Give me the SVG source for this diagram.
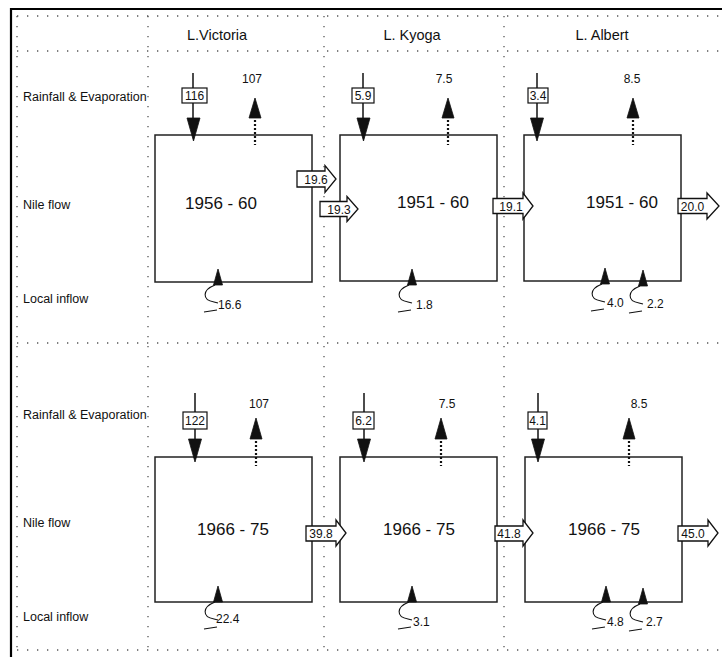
<svg xmlns="http://www.w3.org/2000/svg" width="722" height="657" viewBox="0 0 722 657">
<style>
text{font-family:"Liberation Sans",Arial,sans-serif;fill:#111}
.grid{stroke:#555;stroke-width:1.3;stroke-dasharray:1.3 8.7;fill:none}
.frame{stroke:#000;stroke-width:2.2;fill:none}
.box{fill:none;stroke:#222;stroke-width:1.5}
.hdr{font-size:14.5px;text-anchor:middle}
.row{font-size:12.5px}
.yr{font-size:17px;text-anchor:middle}
.val{font-size:12px;text-anchor:middle}
.lab{font-size:12px}
.lbox{fill:#fff;stroke:#111;stroke-width:1.2}
.shaft{stroke:#111;stroke-width:1.5;fill:none}
.dshaft{stroke:#111;stroke-width:2.2;stroke-dasharray:2 2;fill:none}
.head{fill:#111;stroke:#111;stroke-width:0.8}
.blk{fill:#fff;stroke:#111;stroke-width:1.3;stroke-linejoin:miter}
.sq{fill:none;stroke:#111;stroke-width:1.1}
</style>
<defs>
<g id="inflow">
<polygon class="head" points="0,0 -4.5,16 4.5,16"/>
<path class="sq" d="M-3,16 C-16,21 -16,31 -4,33 L0,34 M-14,43 L-1,41"/>
</g>
</defs>
<rect width="722" height="657" fill="#fff"/>
<g id="grid">
<path class="frame" d="M11,657 V9 H722"/>
<path class="grid" d="M17,16 H722 M17,51 H722 M17,343 H722 M17,650 H722"/>
<path class="grid" d="M17,16 V650 M148,16 V650 M324,16 V650 M504,16 V650"/>
</g>
<g id="headers">
<text class="hdr" x="217" y="40">L.Victoria</text>
<text class="hdr" x="412" y="40">L. Kyoga</text>
<text class="hdr" x="602" y="40">L. Albert</text>
</g>
<g id="row-labels">
<text class="row" x="23" y="101">Rainfall &amp; Evaporation</text>
<text class="row" x="23" y="209">Nile flow</text>
<text class="row" x="23" y="303">Local inflow</text>
<text class="row" x="23" y="419">Rainfall &amp; Evaporation</text>
<text class="row" x="23" y="527">Nile flow</text>
<text class="row" x="23" y="621">Local inflow</text>
</g>
<g id="victoria-1956">
<rect class="box" x="155" y="135" width="157" height="147"/>
<text class="yr" x="221" y="209">1956 - 60</text>
</g>
<g id="kyoga-1951">
<rect class="box" x="340" y="135" width="157" height="146"/>
<text class="yr" x="433" y="208">1951 - 60</text>
</g>
<g id="albert-1951">
<rect class="box" x="524" y="135" width="157" height="146"/>
<text class="yr" x="622" y="208">1951 - 60</text>
</g>
<g id="victoria-1966">
<rect class="box" x="155" y="457" width="157" height="145"/>
<text class="yr" x="233" y="535">1966 - 75</text>
</g>
<g id="kyoga-1966">
<rect class="box" x="340" y="457" width="157" height="145"/>
<text class="yr" x="419" y="535">1966 - 75</text>
</g>
<g id="albert-1966">
<rect class="box" x="525" y="457" width="157" height="145"/>
<text class="yr" x="604" y="535">1966 - 75</text>
</g>
<g id="connectors">
<!-- rainfall top -->
<line class="shaft" x1="193" y1="73" x2="193" y2="120"/>
<polygon class="head" points="187,118 200,118 193.5,141"/>
<rect class="lbox" x="182" y="88" width="25" height="15"/>
<text class="val" x="194.5" y="100">116</text>
<line class="shaft" x1="363" y1="73" x2="363" y2="120"/>
<polygon class="head" points="357,118 370,118 363.5,141"/>
<rect class="lbox" x="352" y="88" width="22" height="15"/>
<text class="val" x="363" y="100">5.9</text>
<line class="shaft" x1="537" y1="73" x2="537" y2="120"/>
<polygon class="head" points="530.5,118 543.5,118 537,141"/>
<rect class="lbox" x="528" y="88" width="20" height="15"/>
<text class="val" x="538" y="100">3.4</text>
<!-- evaporation top -->
<line class="dshaft" x1="255" y1="116" x2="255" y2="145"/>
<polygon class="head" points="249,118 261,118 255,98"/>
<text class="val" x="252" y="83">107</text>
<line class="dshaft" x1="448" y1="116" x2="448" y2="145"/>
<polygon class="head" points="442,118 454,118 448,98"/>
<text class="val" x="444" y="83">7.5</text>
<line class="dshaft" x1="633" y1="116" x2="633" y2="145"/>
<polygon class="head" points="627,118 639,118 633,98"/>
<text class="val" x="632" y="83">8.5</text>
<!-- nile flow top -->
<path class="blk" d="M297,171 H325 V165.5 L336,179 L325,192.5 V187 H297 Z"/>
<text class="val" x="316" y="183.5">19.6</text>
<path class="blk" d="M320,201.5 H347 V196.5 L358,209 L347,221.5 V216.5 H320 Z"/>
<text class="val" x="339" y="213.5">19.3</text>
<path class="blk" d="M493,198.5 H523 V193 L533,206 L523,219 V213.5 H493 Z"/>
<text class="val" x="511" y="210.5">19.1</text>
<path class="blk" d="M678,198.5 H707 V193 L719,206 L707,219 V213.5 H678 Z"/>
<text class="val" x="692.5" y="210.5">20.0</text>
<!-- local inflow top -->
<use href="#inflow" x="218" y="269"/>
<text class="lab" x="218" y="309">16.6</text>
<use href="#inflow" x="412" y="269"/>
<text class="lab" x="416" y="309">1.8</text>
<use href="#inflow" x="605" y="268"/>
<text class="lab" x="607" y="307">4.0</text>
<use href="#inflow" x="643" y="270"/>
<text class="lab" x="647" y="308">2.2</text>
<!-- rainfall bottom -->
<line class="shaft" x1="195" y1="393" x2="195" y2="441"/>
<polygon class="head" points="188.5,439 201.5,439 195,462"/>
<rect class="lbox" x="183" y="412" width="24" height="17"/>
<text class="val" x="195" y="425">122</text>
<line class="shaft" x1="364" y1="393" x2="364" y2="441"/>
<polygon class="head" points="357.5,439 370.5,439 364,462"/>
<rect class="lbox" x="353" y="412" width="21" height="17"/>
<text class="val" x="363.5" y="425">6.2</text>
<line class="shaft" x1="538" y1="393" x2="538" y2="441"/>
<polygon class="head" points="531.5,439 544.5,439 538,462"/>
<rect class="lbox" x="528" y="412" width="19" height="17"/>
<text class="val" x="537.5" y="425">4.1</text>
<!-- evaporation bottom -->
<line class="dshaft" x1="256" y1="437" x2="256" y2="466"/>
<polygon class="head" points="250,439 262,439 256,418"/>
<text class="val" x="259" y="408">107</text>
<line class="dshaft" x1="441" y1="437" x2="441" y2="466"/>
<polygon class="head" points="435,439 447,439 441,418"/>
<text class="val" x="447" y="408">7.5</text>
<line class="dshaft" x1="629" y1="437" x2="629" y2="466"/>
<polygon class="head" points="623,439 635,439 629,418"/>
<text class="val" x="639" y="408">8.5</text>
<!-- nile flow bottom -->
<path class="blk" d="M306,526 H336 V520 L346,533 L336,546 V541 H306 Z"/>
<text class="val" x="321" y="538">39.8</text>
<path class="blk" d="M495,526 H523 V520 L533,533 L523,546 V541 H495 Z"/>
<text class="val" x="509" y="538">41.8</text>
<path class="blk" d="M678,526 H708 V520 L718,533 L708,546 V541 H678 Z"/>
<text class="val" x="693" y="538">45.0</text>
<!-- local inflow bottom -->
<use href="#inflow" x="218" y="586"/>
<text class="lab" x="216" y="623">22.4</text>
<use href="#inflow" x="412" y="586"/>
<text class="lab" x="413" y="626">3.1</text>
<use href="#inflow" x="606" y="586"/>
<text class="lab" x="607" y="626">4.8</text>
<use href="#inflow" x="643" y="588"/>
<text class="lab" x="646" y="626">2.7</text>
</g>
</svg>
